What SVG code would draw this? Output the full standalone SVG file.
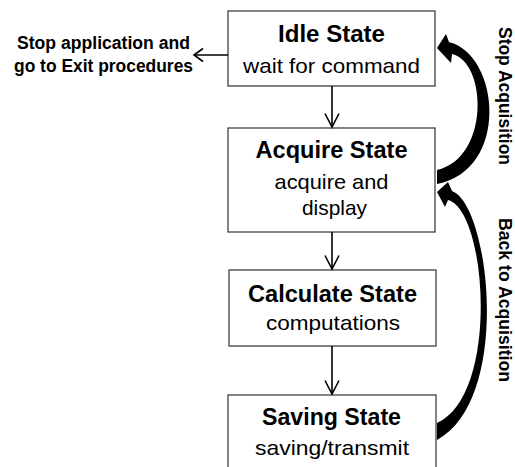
<svg xmlns="http://www.w3.org/2000/svg" width="515" height="467" viewBox="0 0 515 467">
  <defs>
    <style>
      .box { fill: #ffffff; stroke: #404040; stroke-width: 1.3; }
      .title { font-family: "Liberation Sans", Arial, sans-serif; font-weight: bold; font-size: 24px; fill: #000; text-anchor: middle; }
      .sub { font-family: "Liberation Sans", Arial, sans-serif; font-size: 21px; fill: #000; text-anchor: middle; }
      .note { font-family: "Liberation Sans", Arial, sans-serif; font-weight: bold; font-size: 17.5px; fill: #000; text-anchor: middle; }
      .side { font-family: "Liberation Sans", Arial, sans-serif; font-weight: bold; font-size: 18.5px; fill: #000; text-anchor: middle; }
      .link { fill: none; stroke: #000; stroke-width: 1.6; }
      .head { fill: none; stroke: #000; stroke-width: 1.6; stroke-linejoin: miter; }
      .loop { fill: #000; stroke: none; }
    </style>
  </defs>

  <rect width="515" height="467" fill="#ffffff"/>

  <!-- state boxes -->
  <g id="idle">
    <rect class="box" x="228" y="11" width="207" height="75"/>
    <text class="title" x="331.5" y="42" textLength="107" lengthAdjust="spacingAndGlyphs">Idle State</text>
    <text class="sub" x="331.5" y="72.5" textLength="177" lengthAdjust="spacingAndGlyphs">wait for command</text>
  </g>

  <g id="acquire">
    <rect class="box" x="228" y="128" width="207" height="104"/>
    <text class="title" x="331.5" y="158" textLength="152" lengthAdjust="spacingAndGlyphs">Acquire State</text>
    <text class="sub" x="331.5" y="189" textLength="114" lengthAdjust="spacingAndGlyphs">acquire and</text>
    <text class="sub" x="334.5" y="215" textLength="65" lengthAdjust="spacingAndGlyphs">display</text>
  </g>

  <g id="calculate">
    <rect class="box" x="229" y="270" width="207" height="76"/>
    <text class="title" x="332.5" y="301.5" textLength="169" lengthAdjust="spacingAndGlyphs">Calculate State</text>
    <text class="sub" x="333" y="330" textLength="134" lengthAdjust="spacingAndGlyphs">computations</text>
  </g>

  <g id="saving">
    <rect class="box" x="228" y="395" width="208" height="90"/>
    <text class="title" x="331.5" y="425" textLength="139" lengthAdjust="spacingAndGlyphs">Saving State</text>
    <text class="sub" x="332" y="455" textLength="154" lengthAdjust="spacingAndGlyphs">saving/transmit</text>
  </g>

  <g id="exit">
    <text class="note" x="103.5" y="49" textLength="173" lengthAdjust="spacingAndGlyphs">Stop application and</text>
    <text class="note" x="103.5" y="72" textLength="179" lengthAdjust="spacingAndGlyphs">go to Exit procedures</text>
  </g>

  <!-- connectors -->
  <g id="connectors">
    <!-- idle -> acquire -->
    <line class="link" x1="332" y1="86" x2="332" y2="127"/>
    <polyline class="head" points="325,113.5 332,127 339,113.5"/>
    <!-- acquire -> calculate -->
    <line class="link" x1="332" y1="232" x2="332" y2="269"/>
    <polyline class="head" points="325,255.5 332,269 339,255.5"/>
    <!-- calculate -> saving -->
    <line class="link" x1="332" y1="346" x2="332" y2="394"/>
    <polyline class="head" points="325,380.5 332,394 339,380.5"/>
    <!-- idle -> exit -->
    <line class="link" x1="228" y1="55" x2="194" y2="55"/>
    <polyline class="head" points="203,48.5 194,55 203,61.5"/>

    <!-- stop acquisition: acquire back to idle -->
    <path class="loop" d="M437,48 L446,34 L449,42 C500,55 510,170 437,184 L437,170 C490,158 487,62 452,54 L451,63 Z"/>
    <!-- back to acquisition: saving back to acquire -->
    <path class="loop" d="M437,192 L448,182 L452,191 C490,205 512,400 437,440 L437,423 C500,395 487,210 448,200 L445,207 Z"/>

    <text class="side" transform="translate(499,96) rotate(90)" x="0" y="0" textLength="138" lengthAdjust="spacingAndGlyphs">Stop Acquisition</text>
    <text class="side" transform="translate(499,300) rotate(90)" x="0" y="0" textLength="164" lengthAdjust="spacingAndGlyphs">Back to Acquisition</text>
  </g>
</svg>
